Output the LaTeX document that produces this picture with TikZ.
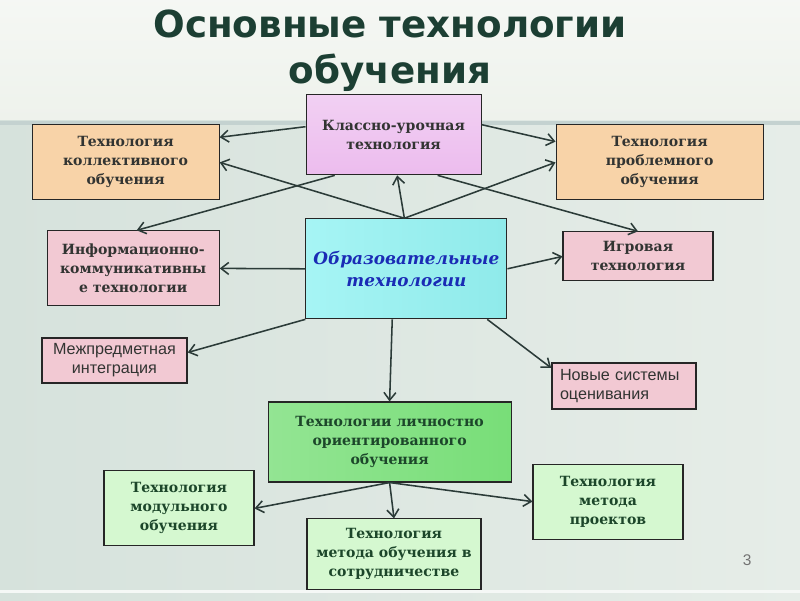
\documentclass[tikz,border=0pt]{standalone}
\usepackage{fontspec}
\setmainfont{DejaVu Serif}
\newfontfamily\titlefont{DejaVu Sans}
\newfontfamily\plainsans{Liberation Sans}
\usetikzlibrary{arrows.meta,calc}
\definecolor{bgtop}{RGB}{238, 242, 236}
\definecolor{bgleft}{RGB}{214, 226, 220}
\definecolor{bgright}{RGB}{230, 237, 232}
\definecolor{bandline}{RGB}{196, 210, 208}
\definecolor{titlegreen}{RGB}{28, 63, 51}
\definecolor{linec}{RGB}{43, 59, 56}
\definecolor{textgrey}{RGB}{50, 52, 50}
\definecolor{textgreen}{RGB}{28, 70, 42}
\definecolor{textblue}{RGB}{26, 43, 181}
\definecolor{peach}{RGB}{248, 211, 168}
\definecolor{rose}{RGB}{242, 201, 211}
\definecolor{lilac}{RGB}{236, 188, 238}
\definecolor{aqua}{RGB}{128, 240, 240}
\definecolor{leaf}{RGB}{120, 222, 120}
\definecolor{mint}{RGB}{213, 248, 208}

\begin{document}
\begin{tikzpicture}[
    box/.style={draw=black!85, line width=0.8pt, align=center, inner sep=2pt,
                font=\bfseries\fontsize{10}{13.5}\selectfont, text=textgrey},
    sansbox/.style={box, line width=1.2pt, font=\plainsans\fontsize{11.5}{13.5}\selectfont},
    arr/.style={draw=linec, line width=1.1pt, -{Straight Barb[length=5.5pt,width=8.5pt]}}
  ]
  \useasboundingbox (0,0) rectangle (20,15);
  % background
  \shade[left color=bgleft, right color=bgright] (0,0) rectangle (20,12);
  \shade[top color=bgtop!60!white, bottom color=bgtop] (0,12) rectangle (20,15);
  \fill[bandline] (0,11.88) rectangle (20,11.98);
  \fill[white!60!bgright] (0,0.18) rectangle (20,0.24);

  % title
  \node[font=\titlefont\bfseries\fontsize{26.5}{33.4}\selectfont, text=titlegreen, align=center, anchor=base]
    (title) at (9.75,12.9) {Основные технологии\\обучения};

  % boxes
  \node[box, top color=lilac!70!white, bottom color=lilac, minimum width=4.375cm, minimum height=2cm] (klass) at (9.84,11.63) {Классно-урочная\\технология};
  \node[box, fill=peach, minimum width=4.675cm, minimum height=1.875cm] (kollekt) at (3.14,10.94) {Технология\\коллективного\\обучения};
  \node[box, fill=peach, minimum width=5.175cm, minimum height=1.875cm] (problem) at (16.49,10.94) {Технология\\проблемного\\обучения};
  \node[box, fill=rose, minimum width=4.3cm, minimum height=1.875cm] (inform) at (3.33,8.29) {Информационно-\\коммуникативны\\е технологии};
  \node[box, left color=aqua!70!white, right color=aqua!90!teal!80!white, minimum width=5.025cm, minimum height=2.5cm,
        font=\bfseries\itshape\fontsize{12}{15.6}\selectfont, text=textblue] (obraz) at (10.16,8.28) {Образовательные\\технологии};
  \node[box, fill=rose, minimum width=3.75cm, minimum height=1.225cm] (igrov) at (15.95,8.59) {Игровая\\технология};
  \node[sansbox, fill=rose, minimum width=3.625cm, minimum height=1.125cm] (mezh) at (2.86,5.99) {Межпредметная\\интеграция};
  \node[sansbox, fill=rose, minimum width=3.6cm, minimum height=1.15cm, align=left, text width=3.2cm] (novye) at (15.6,5.35) {Новые системы\\оценивания};
  \node[box, left color=leaf!80!white, right color=leaf, minimum width=6.075cm, minimum height=2cm, text=textgreen] (lichn) at (9.74,3.95) {Технологии личностно\\ориентированного\\обучения};
  \node[box, fill=mint, minimum width=3.75cm, minimum height=1.875cm, text=textgreen] (modul) at (4.475,2.29) {Технология\\модульного\\обучения};
  \node[box, fill=mint, minimum width=3.75cm, minimum height=1.875cm, text=textgreen] (proekt) at (15.2,2.46) {Технология\\метода\\проектов};
  \node[box, fill=mint, minimum width=4.35cm, minimum height=1.775cm, text=textgreen] (sotrud) at (9.85,1.14) {Технология\\метода обучения в\\сотрудничестве};

  % page number
  \node[font=\plainsans\fontsize{11}{13}\selectfont, text=black!55] (pagenum) at (18.68,1.0) {3};

  % arrows
  \draw[arr] ($(klass.north west)!0.4!(klass.south west)$) -- ($(kollekt.north east)!0.17!(kollekt.south east)$);
  \draw[arr] ($(klass.north east)!0.375!(klass.south east)$) -- ($(problem.north west)!0.227!(problem.south west)$);
  \draw[arr] ($(obraz.north west)!0.49!(obraz.north east)$) -- (kollekt.east);
  \draw[arr] ($(klass.south west)!0.166!(klass.south east)$) -- ($(inform.north west)!0.52!(inform.north east)$);
  \draw[arr] ($(obraz.north west)!0.49!(obraz.north east)$) -- (problem.west);
  \draw[arr] ($(klass.south west)!0.75!(klass.south east)$) -- (igrov.north);
  \draw[arr] ($(obraz.north west)!0.49!(obraz.north east)$) -- ($(klass.south west)!0.52!(klass.south east)$);
  \draw[arr] (obraz.west) -- (inform.east);
  \draw[arr] (obraz.east) -- (igrov.west);
  \draw[arr] (obraz.south west) -- ($(mezh.north east)!0.33!(mezh.south east)$);
  \draw[arr] ($(obraz.south west)!0.43!(obraz.south east)$) -- (lichn.north);
  \draw[arr] ($(obraz.south west)!0.9!(obraz.south east)$) -- ($(novye.north west)!0.12!(novye.south west)$);
  \draw[arr] (lichn.south) -- (modul.east);
  \draw[arr] (lichn.south) -- (sotrud.north);
  \draw[arr] (lichn.south) -- (proekt.west);
\end{tikzpicture}
\end{document}
